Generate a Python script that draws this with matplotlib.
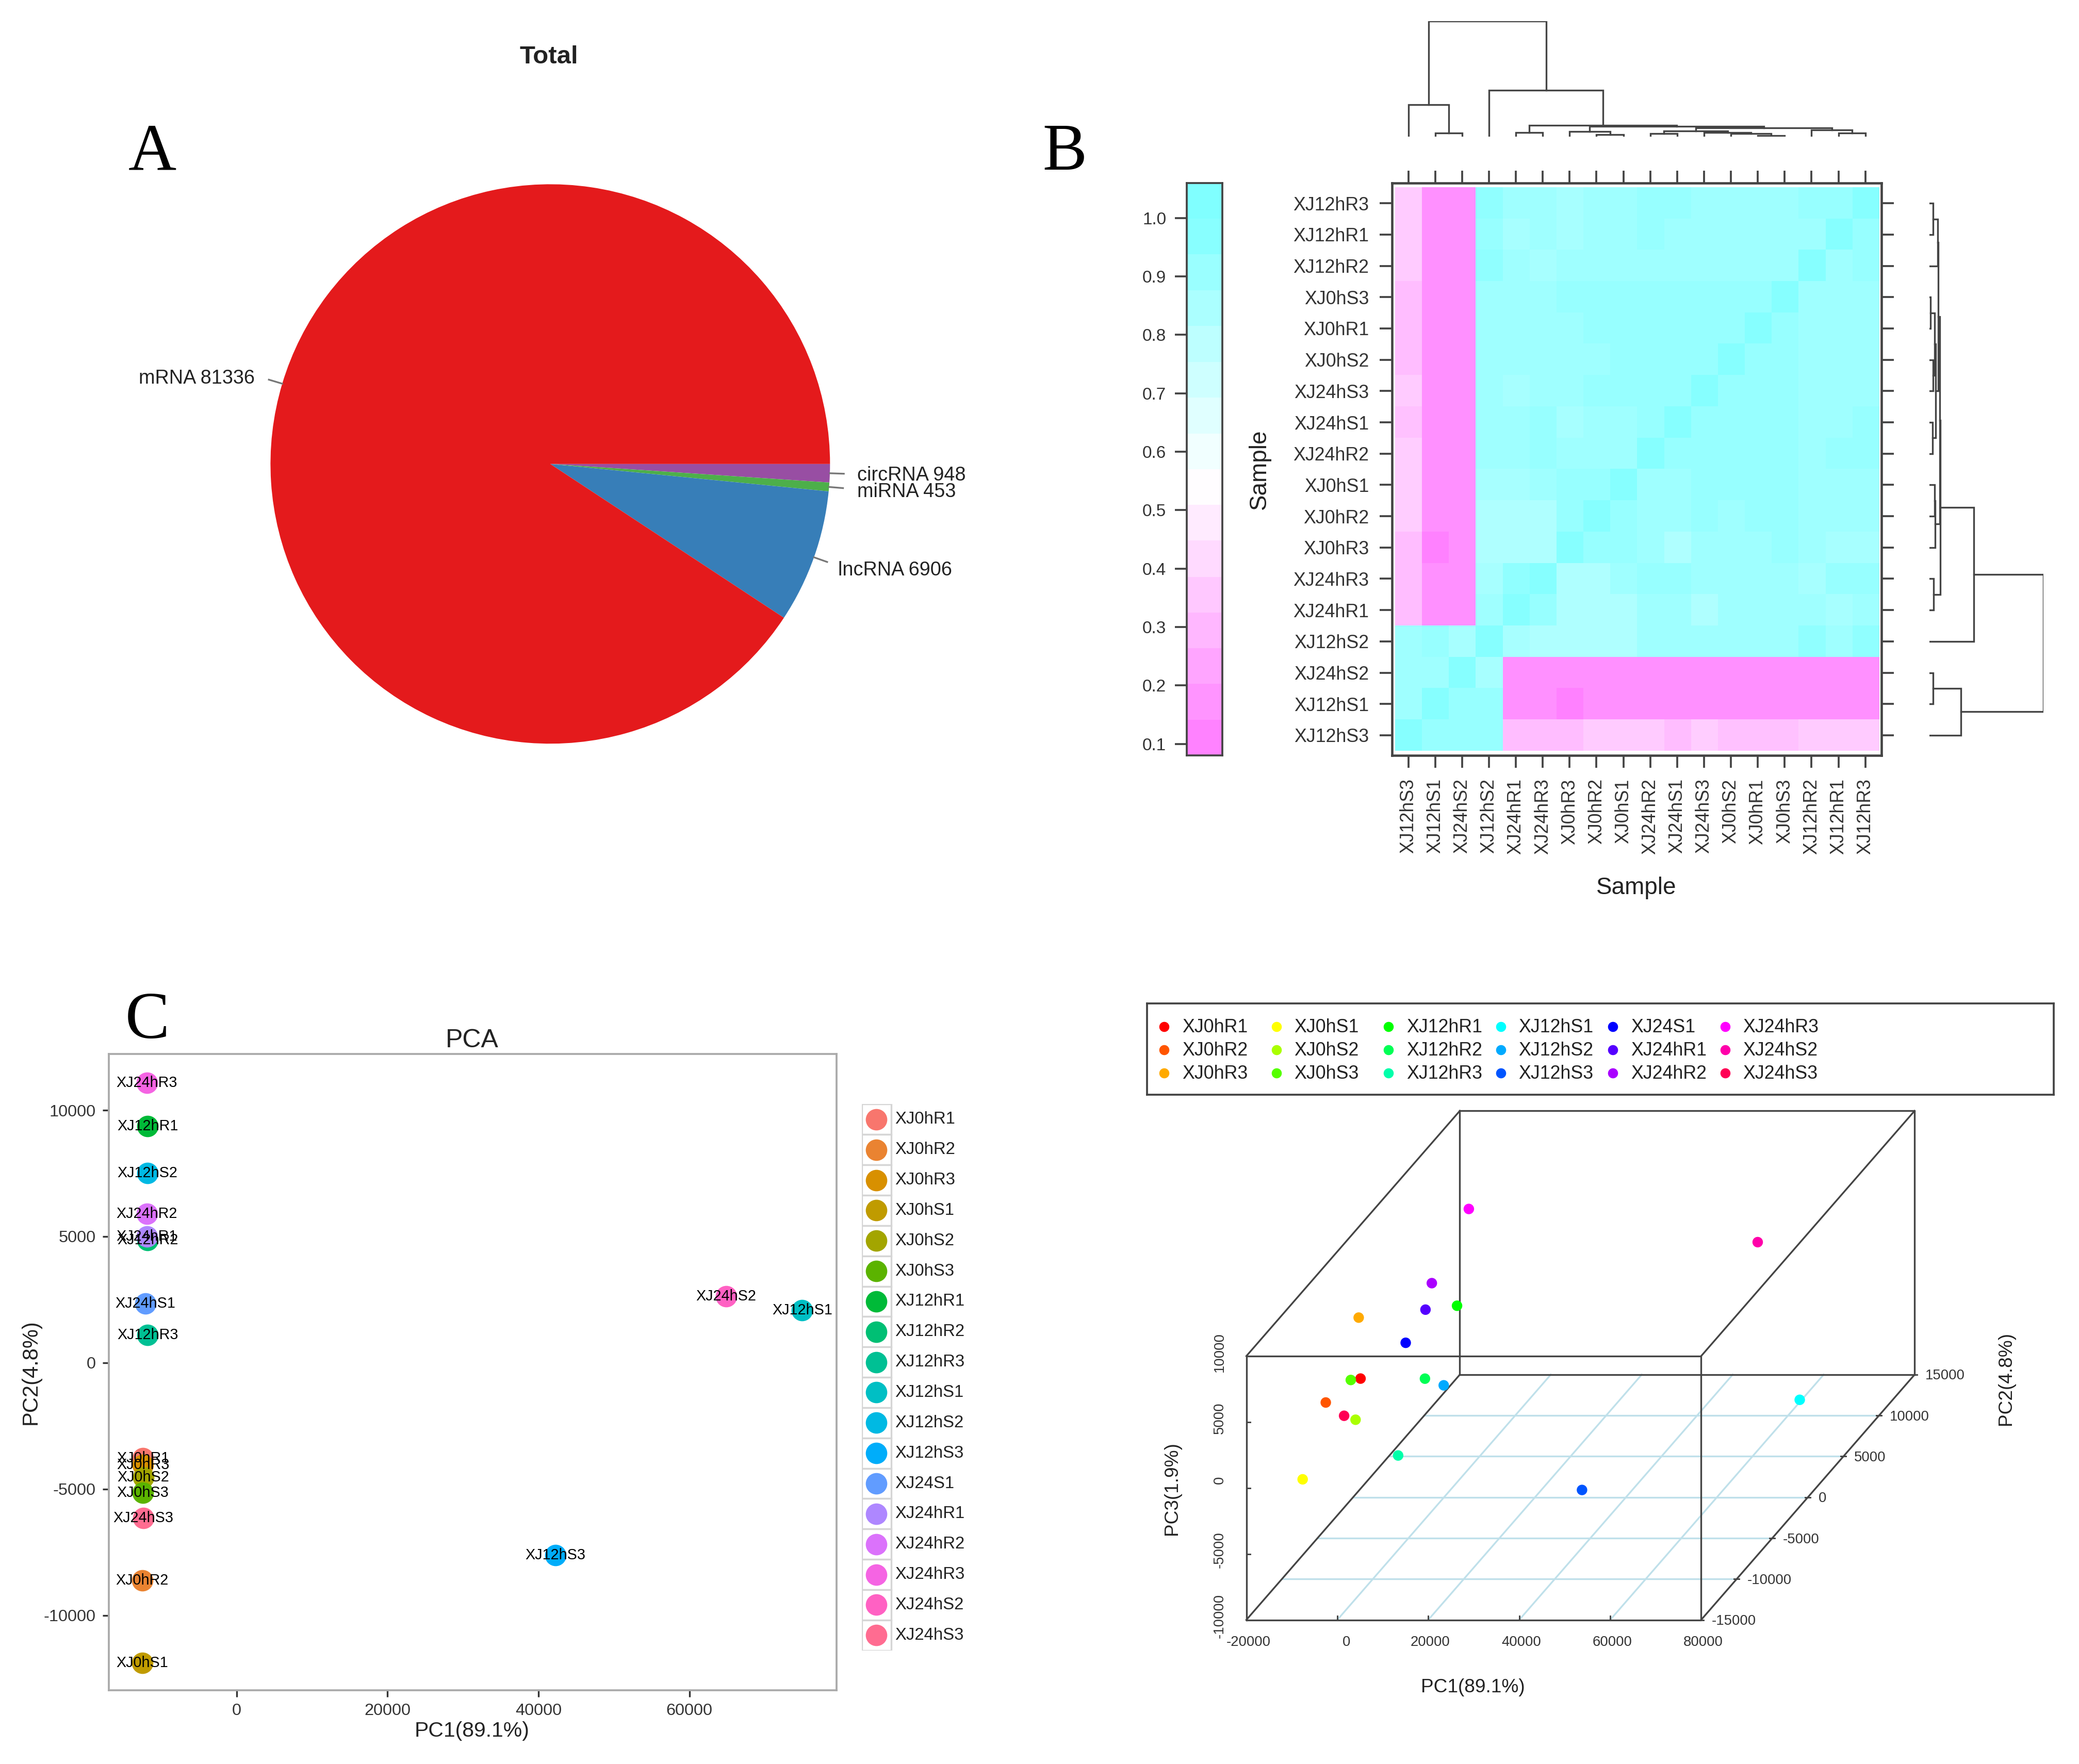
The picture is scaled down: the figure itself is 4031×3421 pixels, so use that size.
#!/usr/bin/env python3
"""Four panel transcriptome figure: RNA pie, sample correlation heatmap, PCA and 3D PCA."""

import matplotlib

matplotlib.use("Agg")
import matplotlib.pyplot as plt
import numpy as np
from matplotlib.colors import LinearSegmentedColormap, Normalize
from matplotlib.patches import Rectangle

plt.rcParams["font.family"] = ["Liberation Sans", "DejaVu Sans"]
plt.rcParams["axes.unicode_minus"] = False

# layout positions below are given in the 1568 px wide preview of the figure
SCALE = 4031 / 1568
W, H = 1568, 3421 / SCALE

# panel A
PIE_LABELS = ["circRNA", "miRNA", "lncRNA", "mRNA"]
PIE_VALUES = [948, 453, 6906, 81336]
PIE_COLORS = ["#984EA3", "#4DAF4A", "#377EB8", "#E41A1C"]

# panel B
COL_ORDER = [
    "XJ12hS3", "XJ12hS1", "XJ24hS2", "XJ12hS2", "XJ24hR1", "XJ24hR3",
    "XJ0hR3", "XJ0hR2", "XJ0hS1", "XJ24hR2", "XJ24hS1", "XJ24hS3",
    "XJ0hS2", "XJ0hR1", "XJ0hS3", "XJ12hR2", "XJ12hR1", "XJ12hR3",
]
ROW_ORDER = COL_ORDER[::-1]

# correlation levels
E = 0.975
C = 0.94
B = 0.914
A = 0.886
F = 0.857
G = 0.83
M = 0.16
N = 0.11
P = 0.32
Q = 0.335
R = 0.37
S = 0.375

CORR = [
    [R, M, M, C, A, A, F, A, A, B, B, A, A, A, A, B, B, E],
    [R, M, M, B, F, A, F, A, A, B, A, A, A, A, A, A, E, B],
    [R, M, M, C, A, F, A, A, A, A, A, A, A, A, A, E, A, B],
    [P, M, M, A, A, A, B, B, B, B, B, B, B, B, E, A, A, A],
    [P, M, M, A, A, A, A, B, B, B, B, B, B, E, B, A, A, A],
    [P, M, M, A, A, A, A, A, B, B, B, B, E, B, B, A, A, A],
    [R, M, M, A, F, A, A, B, B, B, B, E, B, B, B, A, A, A],
    [Q, M, M, A, A, B, F, A, A, B, E, B, B, B, B, A, A, B],
    [S, M, M, A, A, B, A, A, A, E, B, B, B, B, B, A, B, B],
    [S, M, M, F, F, A, B, B, E, A, A, B, B, B, B, A, A, A],
    [S, M, M, G, G, G, B, E, B, A, A, B, A, B, B, A, A, A],
    [P, N, M, G, G, G, E, B, B, A, G, A, A, A, B, A, F, F],
    [P, M, M, F, C, E, G, G, A, B, B, A, A, A, A, F, B, B],
    [P, M, M, A, E, B, G, G, G, A, A, G, A, A, A, A, F, A],
    [A, B, F, E, F, G, G, G, G, A, A, A, A, A, A, C, A, C],
    [A, A, E, F, M, M, M, M, M, M, M, M, M, M, M, M, M, M],
    [A, E, B, B, M, M, N, M, M, M, M, M, M, M, M, M, M, M],
    [E, B, B, B, P, P, P, R, R, R, P, S, Q, Q, Q, R, R, R],
]

COLORBAR_EDGES = [
    0.08, 0.141, 0.203, 0.264, 0.325, 0.386, 0.448, 0.509, 0.57,
    0.631, 0.693, 0.754, 0.815, 0.876, 0.938, 0.999, 1.06,
]
COLORBAR_TICKS = [0.1, 0.2, 0.3, 0.4, 0.5, 0.6, 0.7, 0.8, 0.9, 1.0]

# dendrograms: (left node, right node, height); new nodes are numbered from 18
TOP_MERGES = [
    (1, 2, 0.03), (0, 18, 0.276), (4, 5, 0.036), (7, 8, 0.015), (6, 21, 0.046),
    (13, 14, 0.01), (12, 23, 0.026), (11, 24, 0.036), (9, 10, 0.026), (26, 25, 0.05),
    (16, 17, 0.03), (15, 28, 0.056), (27, 29, 0.077), (22, 30, 0.087), (20, 31, 0.097),
    (3, 32, 0.40), (19, 33, 1.0),
]
RIGHT_MERGES = [
    (0, 1, 0.035), (18, 2, 0.075), (3, 4, 0.012), (5, 6, 0.035), (20, 21, 0.046),
    (7, 8, 0.03), (22, 23, 0.058), (19, 24, 0.08), (9, 10, 0.046), (26, 11, 0.052),
    (25, 27, 0.092), (12, 13, 0.04), (28, 29, 0.098), (14, 30, 0.393), (15, 16, 0.035),
    (32, 17, 0.277), (31, 33, 1.0),
]

# panels C and D
SAMPLES = [
    "XJ0hR1", "XJ0hR2", "XJ0hR3", "XJ0hS1", "XJ0hS2", "XJ0hS3",
    "XJ12hR1", "XJ12hR2", "XJ12hR3", "XJ12hS1", "XJ12hS2", "XJ12hS3",
    "XJ24S1", "XJ24hR1", "XJ24hR2", "XJ24hR3", "XJ24hS2", "XJ24hS3",
]
POINT_LABELS = [
    "XJ0hR1", "XJ0hR2", "XJ0hR3", "XJ0hS1", "XJ0hS2", "XJ0hS3",
    "XJ12hR1", "XJ12hR2", "XJ12hR3", "XJ12hS1", "XJ12hS2", "XJ12hS3",
    "XJ24hS1", "XJ24hR1", "XJ24hR2", "XJ24hR3", "XJ24hS2", "XJ24hS3",
]
PC1 = [
    -12430, -12500, -12430, -12500, -12350, -12430,
    -11800, -11800, -11800, 74960, -11800, 42260,
    -12090, -11900, -11900, -11900, 64870, -12350,
]
PC2 = [
    -3790, -8630, -4050, -11880, -4540, -5160,
    9370, 4860, 1090, 2080, 7500, -7620,
    2340, 5000, 5890, 11090, 2620, -6150,
]
PC3 = [
    1347, 2533, 6131, -1276, -1307, 2090,
    -1287, -4020, -7508, -3900, -6161, -4724,
    261, 1126, 2583, 4985, 7719, -10,
]
HUE_COLORS = [
    "#F8766D", "#EA8331", "#D89000", "#C09B00", "#A3A500", "#5BB300",
    "#00BA38", "#00BF74", "#00C094", "#00BFC4", "#00B9E3", "#00ADFA",
    "#619CFF", "#AE87FF", "#DB72FB", "#F564E3", "#FF61C3", "#FF6C91",
]
RAINBOW_COLORS = [
    "#FF0000", "#FF5500", "#FFAA00", "#FFFF00", "#AAFF00", "#55FF00",
    "#00FF00", "#00FF55", "#00FFAA", "#00FFFF", "#00AAFF", "#0055FF",
    "#0000FF", "#5500FF", "#AA00FF", "#FF00FF", "#FF00AA", "#FF0055",
]
PCA_XTICKS = [0, 20000, 40000, 60000]
PCA_YTICKS = [-10000, -5000, 0, 5000, 10000]
BOX_XTICKS = [-20000, 0, 20000, 40000, 60000, 80000]
BOX_YTICKS = [-15000, -10000, -5000, 0, 5000, 10000, 15000]
BOX_ZTICKS = [-10000, -5000, 0, 5000, 10000]

DARK = "#444444"


def add_axes(fig, left, top, right, bottom, **kwargs):
    """Axes from a box given in preview pixels, y going down."""
    return fig.add_axes(
        [left / W, 1 - bottom / H, (right - left) / W, (bottom - top) / H], **kwargs
    )


def put_text(fig, x, y, text, **kwargs):
    kwargs.setdefault("ha", "center")
    kwargs.setdefault("va", "center")
    fig.text(x / W, 1 - y / H, text, **kwargs)


def plot_pie(fig):
    ax = add_axes(fig, 204, 139, 626, 561)
    wedges, _ = ax.pie(
        PIE_VALUES, colors=PIE_COLORS, startangle=0, counterclock=False, radius=1.0,
        wedgeprops={"linewidth": 0},
    )
    ax.set_xlim(-1, 1)
    ax.set_ylim(-1, 1)
    offsets = {"circRNA": (0.048, -0.006), "miRNA": (0.05, -0.014), "lncRNA": (0.04, -0.03), "mRNA": (-0.05, 0.005)}
    for wedge, label, value in zip(wedges, PIE_LABELS, PIE_VALUES):
        angle = np.deg2rad((wedge.theta1 + wedge.theta2) / 2)
        cx, sy = np.cos(angle), np.sin(angle)
        ax.plot([cx, 1.05 * cx], [sy, 1.05 * sy], color="#777777", lw=0.8, clip_on=False)
        dx, dy = offsets[label]
        ax.text(
            1.05 * cx + dx, 1.05 * sy + dy, f"{label} {value}", fontsize=9.1, color="#222222",
            ha="left" if cx > 0 else "right", va="center", clip_on=False,
        )


def draw_tree(ax, merges, horizontal):
    nodes = {i: (i, 0.0) for i in range(18)}
    for k, (a, b, height) in enumerate(merges):
        xa, ha = nodes[a]
        xb, hb = nodes[b]
        xs = [xa, xa, xb, xb]
        ys = [ha, height, height, hb]
        if horizontal:
            ax.plot(ys, xs, color=DARK, lw=0.8, solid_joinstyle="miter")
        else:
            ax.plot(xs, ys, color=DARK, lw=0.8, solid_joinstyle="miter")
        nodes[18 + k] = ((xa + xb) / 2, height)


def plot_heatmap(fig):
    cmap = LinearSegmentedColormap.from_list("cm_colors", ["#FF80FF", "#FFFFFF", "#80FFFF"])
    norm = Normalize(0.1, 1.0)

    ax = add_axes(fig, 1050, 138, 1419, 570)
    ax.imshow(np.array(CORR), cmap=cmap, norm=norm, aspect="auto", interpolation="nearest")
    ax.set_xlim(-0.6, 17.6)
    ax.set_ylim(17.65, -0.65)
    ax.set_xticks(range(18), COL_ORDER, rotation=90)
    ax.set_yticks(range(18), ROW_ORDER)
    ax.tick_params(
        top=True, right=True, length=5.8, width=0.9, color=DARK, labelsize=8.6,
        labelcolor="#333333", pad=5,
    )
    for spine in ax.spines.values():
        spine.set_color(DARK)
        spine.set_linewidth(1.1)

    # colour key
    bar = add_axes(fig, 895, 138, 922, 570)
    edges = np.array(COLORBAR_EDGES)
    mids = (edges[:-1] + edges[1:]) / 2
    bar.pcolormesh([0, 1], edges, mids[:, None], cmap=cmap, norm=norm)
    bar.set_xticks([])
    bar.set_yticks(COLORBAR_TICKS, [f"{t:.1f}" for t in COLORBAR_TICKS])
    bar.tick_params(length=5.5, width=0.9, color=DARK, labelsize=8, labelcolor="#333333", pad=4)
    for spine in bar.spines.values():
        spine.set_color(DARK)
        spine.set_linewidth(0.9)

    top = add_axes(fig, 1050, 16, 1419, 103)
    draw_tree(top, TOP_MERGES, horizontal=False)
    top.set_xlim(-0.6, 17.6)
    top.set_ylim(0, 1)
    top.axis("off")

    side = add_axes(fig, 1455, 138, 1541, 570)
    draw_tree(side, RIGHT_MERGES, horizontal=True)
    side.set_xlim(0, 1)
    side.set_ylim(17.65, -0.65)
    side.axis("off")

    put_text(fig, 950, 354, "Sample", rotation=90, fontsize=11, color="#222222")
    put_text(fig, 1234, 670, "Sample", fontsize=11, color="#222222")


def plot_pca(fig):
    ax = add_axes(fig, 82, 795, 631, 1275)
    for x, y, color, label in zip(PC1, PC2, HUE_COLORS, POINT_LABELS):
        ax.scatter(x, y, s=100, color=color, linewidths=0, zorder=2)
        ax.text(x, y, label, fontsize=6.9, color="black", ha="center", va="center", zorder=3)
    ax.set_xlim(-16960, 79525)
    ax.set_ylim(-12966, 12231)
    ax.set_xticks(PCA_XTICKS)
    ax.set_yticks(PCA_YTICKS)
    ax.tick_params(length=3, width=0.8, color="#333333", labelsize=7.8, labelcolor="#333333", pad=3)
    for spine in ax.spines.values():
        spine.set_color("#AAAAAA")
        spine.set_linewidth(0.9)
    put_text(fig, 356, 785, "PCA", fontsize=12, color="#222222")
    put_text(fig, 356, 1306, "PC1(89.1%)", fontsize=9.8, color="#222222")
    put_text(fig, 23, 1035, "PC2(4.8%)", rotation=90, fontsize=10, color="#222222")

    keys = add_axes(fig, 650, 833, 740, 1245)
    keys.set_xlim(0, 90)
    keys.set_ylim(len(SAMPLES), 0)
    keys.axis("off")
    for i, (name, color) in enumerate(zip(SAMPLES, HUE_COLORS)):
        keys.add_patch(Rectangle((0, i), 22, 1, facecolor="white", edgecolor="#D5D5D5", lw=0.8))
        keys.scatter(11, i + 0.5, s=100, color=color, linewidths=0)
        keys.text(25, i + 0.5, name, fontsize=7.9, color="#222222", va="center")


def project(x, y, z):
    """Oblique view of the PCA box, in preview pixels."""
    px = 940 + (np.asarray(x) + 20000) / 100000 * 343 + (np.asarray(y) + 15000) / 30000 * 161
    py = 1222 - (np.asarray(z) + 10000) / 20000 * 199 - (np.asarray(y) + 15000) / 30000 * 185
    return px, py


def plot_pca_3d(fig):
    ax = add_axes(fig, 860, 830, 1560, 1290)
    ax.set_xlim(860, 1560)
    ax.set_ylim(1290, 830)
    ax.axis("off")

    x0, x1 = BOX_XTICKS[0], BOX_XTICKS[-1]
    y0, y1 = BOX_YTICKS[0], BOX_YTICKS[-1]
    z0, z1 = BOX_ZTICKS[0], BOX_ZTICKS[-1]

    for x in BOX_XTICKS[1:-1]:
        ax.plot(*project([x, x], [y0, y1], [z0, z0]), color="#BFE0EA", lw=0.8, zorder=1)
    for y in BOX_YTICKS[1:-1]:
        ax.plot(*project([x0, x1], [y, y], [z0, z0]), color="#BFE0EA", lw=0.8, zorder=1)

    edges = [
        ([x0, x1, x1, x0, x0], [y0] * 5, [z0, z0, z1, z1, z0]),
        ([x0, x1, x1], [y1] * 3, [z1, z1, z0]),
        ([x0, x1], [y1, y1], [z0, z0]),
        ([x0, x0], [y1, y1], [z0, z1]),
        ([x0, x0], [y0, y1], [z0, z0]),
        ([x1, x1], [y0, y1], [z0, z0]),
        ([x0, x0], [y0, y1], [z1, z1]),
        ([x1, x1], [y0, y1], [z1, z1]),
    ]
    for xs, ys, zs in edges:
        ax.plot(*project(xs, ys, zs), color=DARK, lw=0.8, zorder=2)

    for x in BOX_XTICKS:
        px, py = project(x, y0, z0)
        ax.plot([px, px], [py, py - 3], color=DARK, lw=0.7)
        shift = 7 if x == 0 else 1.5
        ax.text(px + shift, py + 17, f"{x}", fontsize=6.6, color="#333333", ha="center", va="center")
    for z in BOX_ZTICKS:
        px, py = project(x0, y0, z)
        ax.plot([px, px + 3], [py, py], color=DARK, lw=0.7)
        shift = 6 if z == 0 else 3
        ax.text(px - 20, py - shift, f"{z}", fontsize=6.6, color="#333333", ha="center", va="center", rotation=90)
    for y in BOX_YTICKS:
        px, py = project(x1, y, z0)
        ax.plot([px - 2, px + 2], [py, py], color=DARK, lw=0.7)
        ax.text(px + 8, py + 1, f"{y}", fontsize=6.6, color="#333333", ha="left", va="center")

    px, py = project(PC1, PC2, PC3)
    ax.scatter(px, py, s=24, c=RAINBOW_COLORS, linewidths=0, zorder=3)

    put_text(fig, 1111, 1273, "PC1(89.1%)", fontsize=8.9, color="#222222")
    put_text(fig, 884, 1123, "PC3(1.9%)", rotation=90, fontsize=8.9, color="#222222")
    put_text(fig, 1513, 1040, "PC2(4.8%)", rotation=90, fontsize=8.9, color="#222222")

    box = add_axes(fig, 865, 757, 1549, 826)
    box.set_xlim(865, 1549)
    box.set_ylim(826, 757)
    box.set_xticks([])
    box.set_yticks([])
    for spine in box.spines.values():
        spine.set_color(DARK)
        spine.set_linewidth(0.9)
    for i, (name, color) in enumerate(zip(SAMPLES, RAINBOW_COLORS)):
        col, row = i // 3, i % 3
        box.scatter(878 + 84.6 * col, 774.5 + 17.5 * row, s=22, color=color, linewidths=0)
        box.text(891.5 + 84.6 * col, 775 + 17.5 * row, name, fontsize=8.6, color="#222222", va="center")


def main():
    fig = plt.figure(figsize=(4031 / 300, 3421 / 300), dpi=300, facecolor="white")
    plot_pie(fig)
    plot_heatmap(fig)
    plot_pca(fig)
    plot_pca_3d(fig)

    put_text(fig, 414, 43, "Total", fontsize=11.8, fontweight="bold", color="#222222")
    for x, y, letter in [(115, 116, "A"), (803, 116, "B"), (111, 771, "C")]:
        put_text(fig, x, y, letter, fontsize=31, family="Liberation Serif", color="black")

    fig.savefig("out.png", dpi=300)


if __name__ == "__main__":
    main()
